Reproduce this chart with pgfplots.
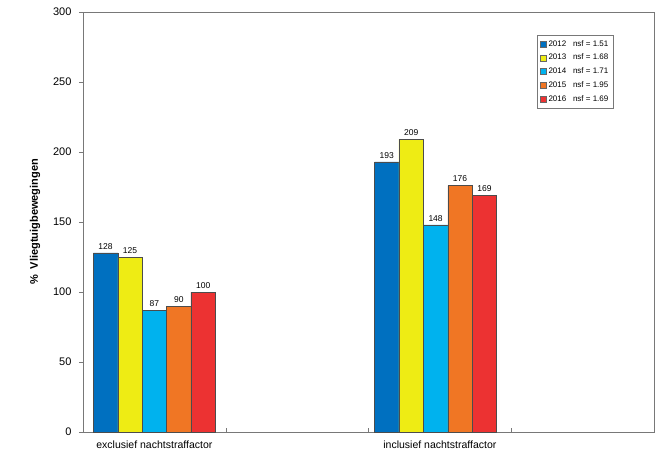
\documentclass[border=0pt]{standalone}
\usepackage{pgfplots}
\pgfplotsset{compat=1.18}
\usepackage{fontspec}
\setmainfont{Liberation Sans}
\definecolor{c12}{RGB}{0,112,192}
\definecolor{c13}{RGB}{238,236,20}
\definecolor{c14}{RGB}{0,178,238}
\definecolor{c15}{RGB}{240,118,36}
\definecolor{c16}{RGB}{236,50,50}
\definecolor{fr}{RGB}{120,120,120}
\begin{document}
\begin{tikzpicture}
\begin{axis}[
  scale only axis, width=571pt, height=420pt,
  xmin=-0.5, xmax=3.5, ymin=0, ymax=300,
  ybar=0pt, bar width=0.171,
  axis line style={fr},
  xtick={0,2}, xticklabels={exclusief nachtstraffactor, inclusief nachtstraffactor},
  major x tick style={draw=none},
  minor xtick={0.5,1.5,2.5},
  minor x tick style={fr, yshift=4pt},
  minor tick length=4pt,
  ytick={0,50,...,300},
  y tick style={fr},
  ytick pos=left, xtick pos=bottom,
  tick align=outside,
  major tick length=4pt,
  ticklabel style={font=\fontsize{11}{13}\selectfont},
  yticklabel style={xshift=-4pt},
  xticklabel style={yshift=-1pt, font=\fontsize{10.5}{13}\selectfont},
  /pgf/number format/assume math mode=true,
  ylabel={\bfseries \% \ Vliegtuigbewegingen},
  every axis y label/.style={at={(axis description cs:-0.084,0.5)}, rotate=90, anchor=center, font=\fontsize{11}{13}\selectfont},
  nodes near coords,
  every node near coord/.append style={font=\fontsize{8.5}{10}\selectfont, color=black},
  legend style={at={(0.795,0.945)}, anchor=north west, draw=fr, font=\fontsize{8}{10}\selectfont, row sep=2.5pt, inner sep=3pt},
  legend cell align=left,
  legend image code/.code={\draw[#1, draw=black!60] (0pt,-3pt) rectangle (6pt,3pt);},
]
\addplot[fill=c12, draw=black!70] coordinates {(0,128) (1.97,193)};
\addplot[fill=c13, draw=black!70] coordinates {(0,125) (1.97,209)};
\addplot[fill=c14, draw=black!70] coordinates {(0,87) (1.97,148)};
\addplot[fill=c15, draw=black!70] coordinates {(0,90) (1.97,176)};
\addplot[fill=c16, draw=black!70] coordinates {(0,100) (1.97,169)};
\legend{2012\ \ \ nsf = 1.51, 2013\ \ \ nsf = 1.68, 2014\ \ \ nsf = 1.71, 2015\ \ \ nsf = 1.95, 2016\ \ \ nsf = 1.69}
\end{axis}
\pgfresetboundingbox
\path ([shift={(-83pt,-26pt)}]current axis.south west) rectangle ([shift={(9pt,12pt)}]current axis.north east);
\end{tikzpicture}
\end{document}
